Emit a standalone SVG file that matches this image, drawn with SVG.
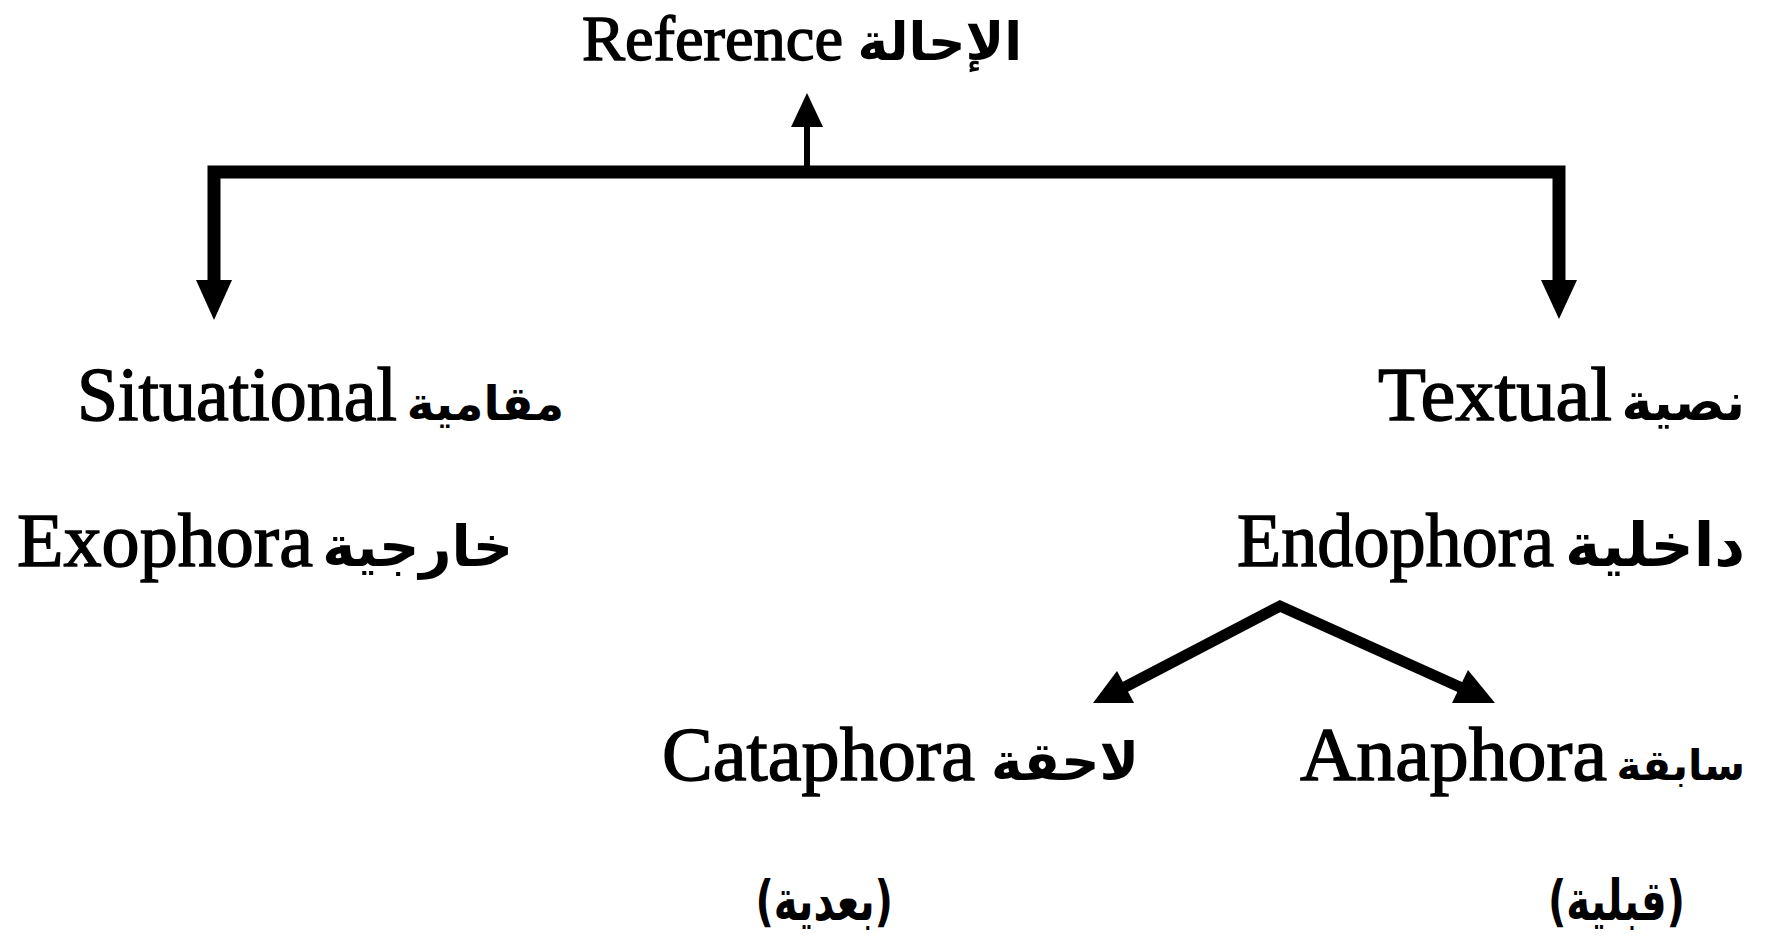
<svg xmlns="http://www.w3.org/2000/svg" width="1768" height="949" viewBox="0 0 1768 949">
<style>
.en{font-family:"Liberation Serif","Times New Roman",serif;fill:#000;stroke:#000;stroke-width:1.4;font-size:76px}
.ar{font-family:"DejaVu Sans",sans-serif;font-weight:bold;fill:#000}
.top{font-size:64px}
.ln{fill:none;stroke:#000;stroke-linejoin:miter;stroke-linecap:butt}
.hd{fill:#000}
</style>
<rect width="1768" height="949" fill="#fff"/>
<g id="connectors">
  <path class="ln" d="M214,284 V172 H1559 V284" stroke-width="13"/>
  <polygon class="hd" points="196,280 232,280 214,320"/>
  <polygon class="hd" points="1541,280 1577,280 1559,319"/>
  <line class="ln" x1="807" y1="166" x2="807" y2="120" stroke-width="6"/>
  <polygon class="hd" points="791,127 823,127 807,93"/>
  <path class="ln" d="M1123,688 L1280,606 L1462,688" stroke-width="11"/>
  <polygon class="hd" points="1093,703 1117,671 1134,703"/>
  <polygon class="hd" points="1495,703 1468,670 1452,703"/>
</g>
<g id="node-reference">
  <text class="en top" x="582" y="60" textLength="261" lengthAdjust="spacingAndGlyphs">Reference</text>
  <text class="ar" font-size="52" x="1022" y="60" text-anchor="end">الإحالة</text>
</g>
<g id="node-situational">
  <text class="en" x="77" y="420" textLength="320" lengthAdjust="spacingAndGlyphs">Situational</text>
  <text class="ar" font-size="47" x="564" y="420" text-anchor="end">مقامية</text>
</g>
<g id="node-exophora">
  <text class="en" x="17" y="566" textLength="296" lengthAdjust="spacingAndGlyphs">Exophora</text>
  <text class="ar" font-size="56" x="513" y="566" text-anchor="end">خارجية</text>
</g>
<g id="node-textual">
  <text class="en" font-size="78" x="1378" y="420" textLength="234" lengthAdjust="spacingAndGlyphs">Textual</text>
  <text class="ar" font-size="52" x="1745" y="420" text-anchor="end">نصية</text>
</g>
<g id="node-endophora">
  <text class="en" x="1237" y="566" textLength="317" lengthAdjust="spacingAndGlyphs">Endophora</text>
  <text class="ar" font-size="60" x="1745" y="566" text-anchor="end">داخلية</text>
</g>
<g id="node-cataphora">
  <text class="en" x="662" y="780" textLength="313" lengthAdjust="spacingAndGlyphs">Cataphora</text>
  <text class="ar" font-size="53" x="1139" y="780" text-anchor="end">لاحقة</text>
  <text class="ar" font-size="56" transform="translate(893,920) scale(0.72,1)" x="0" y="0" text-anchor="end">(بعدية)</text>
</g>
<g id="node-anaphora">
  <text class="en" x="1300" y="780" textLength="307" lengthAdjust="spacingAndGlyphs">Anaphora</text>
  <text class="ar" font-size="42" x="1745" y="780" text-anchor="end">سابقة</text>
  <text class="ar" font-size="56" transform="translate(1685,920) scale(0.72,1)" x="0" y="0" text-anchor="end">(قبلية)</text>
</g>
</svg>
